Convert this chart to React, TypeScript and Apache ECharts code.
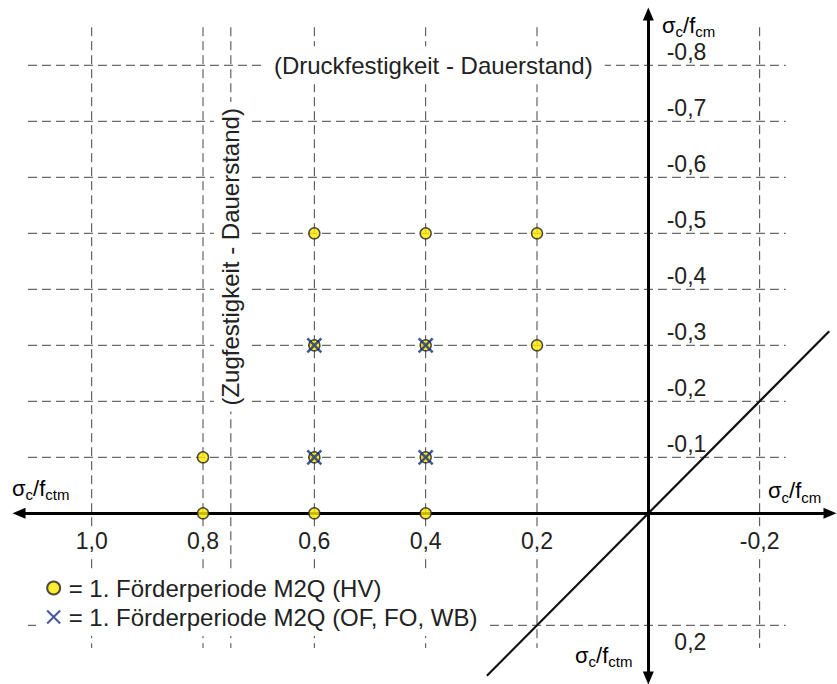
import { useEffect, useRef } from 'react';
import * as echarts from 'echarts';

// ---- data ----
const xTickValues = [1.0, 0.8, 0.6, 0.4, 0.2, -0.2];
const yTickValues = [-0.8, -0.7, -0.6, -0.5, -0.4, -0.3, -0.2, -0.1, 0.2];
const gridXValues = [1.0, 0.8, 0.6, 0.4, 0.2, -0.2];
const gridYValues = [-0.8, -0.7, -0.6, -0.5, -0.4, -0.3, -0.2, -0.1, 0.2];
const tensileLimit = 0.75; // Zugfestigkeit - Dauerstand
const compressiveLimit = -0.8; // Druckfestigkeit - Dauerstand
const hvX = [0.8, 0.8, 0.6, 0.4, 0.6, 0.4, 0.6, 0.4, 0.2, 0.6, 0.4, 0.2];
const hvY = [-0.1, 0, 0, 0, -0.1, -0.1, -0.3, -0.3, -0.3, -0.5, -0.5, -0.5];
const ofX = [0.6, 0.4, 0.6, 0.4];
const ofY = [-0.3, -0.3, -0.1, -0.1];
const diagonalX = [0.29, -0.325];
const diagonalY = [0.29, -0.325];

const HV_NAME = '1. Förderperiode M2Q (HV)';
const OF_NAME = '1. Förderperiode M2Q (OF, FO, WB)';

// axis extents
const X_MIN = -0.3264;
const X_MAX = 1.1306;
const Y_MIN = -0.8916;
const Y_MAX = 0.2941;
const VLINE_Y = [-0.868, 0.2405];
const HLINE_X = [1.1145, -0.247];
const DRUCK_LABEL_X = 0.3863;
const ZUG_LABEL_Y = -0.458;

// grid box (pixels)
const GRID_LEFT = 19;
const GRID_RIGHT = 7;
const GRID_TOP = 14;
const GRID_BOTTOM = 6;
const W = 837;
const H = 684;
const GRID_W = W - GRID_LEFT - GRID_RIGHT;
const GRID_H = H - GRID_TOP - GRID_BOTTOM;
// offsets that bring the label axes onto the zero lines
const X_LABEL_OFFSET = -((Y_MAX - 0) / (Y_MAX - Y_MIN)) * GRID_H;
const Y_LABEL_OFFSET = -((X_MAX - 0) / (X_MAX - X_MIN)) * GRID_W;

const FONT = '"Liberation Sans", Arial, Helvetica, sans-serif';
const GRID_COLOR = '#444';
const TEXT_COLOR = '#222';
const X_COLOR = '#142F85';

const fmt = (v: number) => v.toFixed(1).replace('.', ',');

export default function App() {
  const ref = useRef<HTMLDivElement>(null);

  useEffect(() => {
    const chart = echarts.init(ref.current!, null, { renderer: 'svg' });

    const gridSeries: any[] = [];
    gridXValues.concat([tensileLimit]).forEach((x) => {
      gridSeries.push({
        type: 'line',
        data: [
          [x, VLINE_Y[0]],
          [x, VLINE_Y[1]],
        ],
        symbol: 'none',
        silent: true,
        z: 2,
        lineStyle: { color: GRID_COLOR, width: 1, type: [9, 5] },
      });
    });
    gridYValues.forEach((y) => {
      gridSeries.push({
        type: 'line',
        data: [
          [HLINE_X[0], y],
          [HLINE_X[1], y],
        ],
        symbol: 'none',
        silent: true,
        z: 2,
        lineStyle: { color: GRID_COLOR, width: 1, type: [9, 5] },
      });
    });

    const axisLineStyle = {
      show: true,
      onZero: true,
      symbol: ['triangle', 'triangle'],
      symbolSize: [11, 13],
      lineStyle: { color: '#000', width: 3 },
    };

    const option: any = {
      animation: false,
      textStyle: { fontFamily: FONT },
      grid: {
        left: GRID_LEFT,
        right: GRID_RIGHT,
        top: GRID_TOP,
        bottom: GRID_BOTTOM,
        containLabel: false,
        outerBoundsMode: 'none',
      },
      xAxis: [
        {
          type: 'value',
          inverse: true,
          min: X_MIN,
          max: X_MAX,
          z: 5,
          position: 'bottom',
          axisLine: axisLineStyle,
          axisTick: { show: false },
          splitLine: { show: false },
          axisLabel: { show: false },
        },
        {
          type: 'value',
          inverse: true,
          min: X_MIN,
          max: X_MAX,
          z: 5,
          position: 'bottom',
          offset: X_LABEL_OFFSET,
          axisLine: { show: false, onZero: false },
          axisTick: { show: false },
          splitLine: { show: false },
          axisLabel: {
            customValues: xTickValues,
            formatter: (v: number) => fmt(v),
            fontSize: 23,
            fontFamily: FONT,
            color: TEXT_COLOR,
            margin: 14,
            backgroundColor: '#fff',
            padding: [2, 3, 2, 3],
          },
        },
      ],
      yAxis: [
        {
          type: 'value',
          inverse: true,
          min: Y_MIN,
          max: Y_MAX,
          z: 5,
          position: 'left',
          axisLine: axisLineStyle,
          axisTick: { show: false },
          splitLine: { show: false },
          axisLabel: { show: false },
        },
        {
          type: 'value',
          inverse: true,
          min: Y_MIN,
          max: Y_MAX,
          z: 5,
          position: 'left',
          offset: Y_LABEL_OFFSET,
          axisLine: { show: false, onZero: false },
          axisTick: { show: false },
          splitLine: { show: false },
          axisLabel: {
            customValues: yTickValues,
            inside: true,
            align: 'right',
            margin: 58,
            formatter: (v: number) => (v < 0 ? `{n|${fmt(v)}}` : `{p|${fmt(v)}}`),
            rich: {
              n: { fontSize: 23, fontFamily: FONT, color: TEXT_COLOR, padding: [0, 0, 26, 0] },
              p: { fontSize: 23, fontFamily: FONT, color: TEXT_COLOR, padding: [33, 0, 0, 0] },
            },
          },
        },
      ],
      legend: {
        data: [
          { name: HV_NAME, icon: 'circle' },
          { name: OF_NAME, icon: 'path://M0,0M20,15M2.5,0L17.5,15M17.5,0L2.5,15' },
        ],
        orient: 'vertical',
        left: 36,
        top: 569,
        itemWidth: 20,
        itemHeight: 13,
        itemGap: 5,
        padding: [7, 11, 7, 8],
        backgroundColor: '#fff',
        selectedMode: false,
        formatter: '= {name}',
        textStyle: { fontSize: 24, fontFamily: FONT, color: TEXT_COLOR, lineHeight: 22 },
      },
      series: [
        ...gridSeries,
        {
          type: 'line',
          data: diagonalX.map((x, i) => [x, diagonalY[i]]),
          symbol: 'none',
          silent: true,
          z: 3,
          lineStyle: { color: '#111', width: 2.2 },
        },
        {
          name: HV_NAME,
          type: 'scatter',
          data: hvX.map((x, i) => [x, hvY[i]]),
          symbol: 'circle',
          symbolSize: 11,
          z: 6,
          itemStyle: { color: '#FFE800', borderColor: '#222', borderWidth: 1.5 },
        },
        {
          name: OF_NAME,
          type: 'scatter',
          data: ofX.map((x, i) => [x, ofY[i]]),
          symbol: 'path://M0,0L10,10M10,0L0,10',
          symbolSize: 14,
          z: 7,
          itemStyle: { color: 'rgba(0,0,0,0)', borderColor: X_COLOR, borderWidth: 2.6 },
        },
      ],
    };

    chart.setOption(option);

    const pDruck = chart.convertToPixel({ gridIndex: 0 }, [DRUCK_LABEL_X, compressiveLimit]) as number[];
    const pZug = chart.convertToPixel({ gridIndex: 0 }, [tensileLimit, ZUG_LABEL_Y]) as number[];

    const titleRich = {
      m: { fontSize: 22, fontFamily: FONT, color: TEXT_COLOR },
      s: { fontSize: 15, fontFamily: FONT, color: TEXT_COLOR, padding: [13, 0, 0, 0] },
    };
    const title = (x: number, y: number, text: string) => ({
      type: 'text',
      x,
      y,
      z: 10,
      silent: true,
      style: { text, align: 'left', verticalAlign: 'middle', rich: titleRich },
    });

    chart.setOption({
      graphic: [
        {
          type: 'text',
          x: pDruck[0],
          y: pDruck[1],
          z: 10,
          silent: true,
          style: {
            text: '(Druckfestigkeit - Dauerstand)',
            fontSize: 24,
            fontFamily: FONT,
            fill: TEXT_COLOR,
            align: 'center',
            verticalAlign: 'middle',
            backgroundColor: '#fff',
            padding: [7, 12, 7, 12],
          },
        },
        {
          type: 'text',
          x: pZug[0],
          y: pZug[1],
          rotation: Math.PI / 2,
          z: 10,
          silent: true,
          style: {
            text: '(Zugfestigkeit - Dauerstand)',
            fontSize: 24,
            fontFamily: FONT,
            fill: TEXT_COLOR,
            align: 'center',
            verticalAlign: 'middle',
            backgroundColor: '#fff',
            padding: [5, 6, 5, 6],
          },
        },
        title(662, 25, '{m|σ}{s|c}{m|/f}{s|cm}'),
        title(12, 488, '{m|σ}{s|c}{m|/f}{s|ctm}'),
        title(768, 490.5, '{m|σ}{s|c}{m|/f}{s|cm}'),
        title(575, 655, '{m|σ}{s|c}{m|/f}{s|ctm}'),
      ],
    });

    return () => chart.dispose();
  }, []);

  return (
    <div
      ref={ref}
      style={{ position: 'absolute', left: 0, top: 0, width: W, height: H, background: '#fff' }}
    />
  );
}
